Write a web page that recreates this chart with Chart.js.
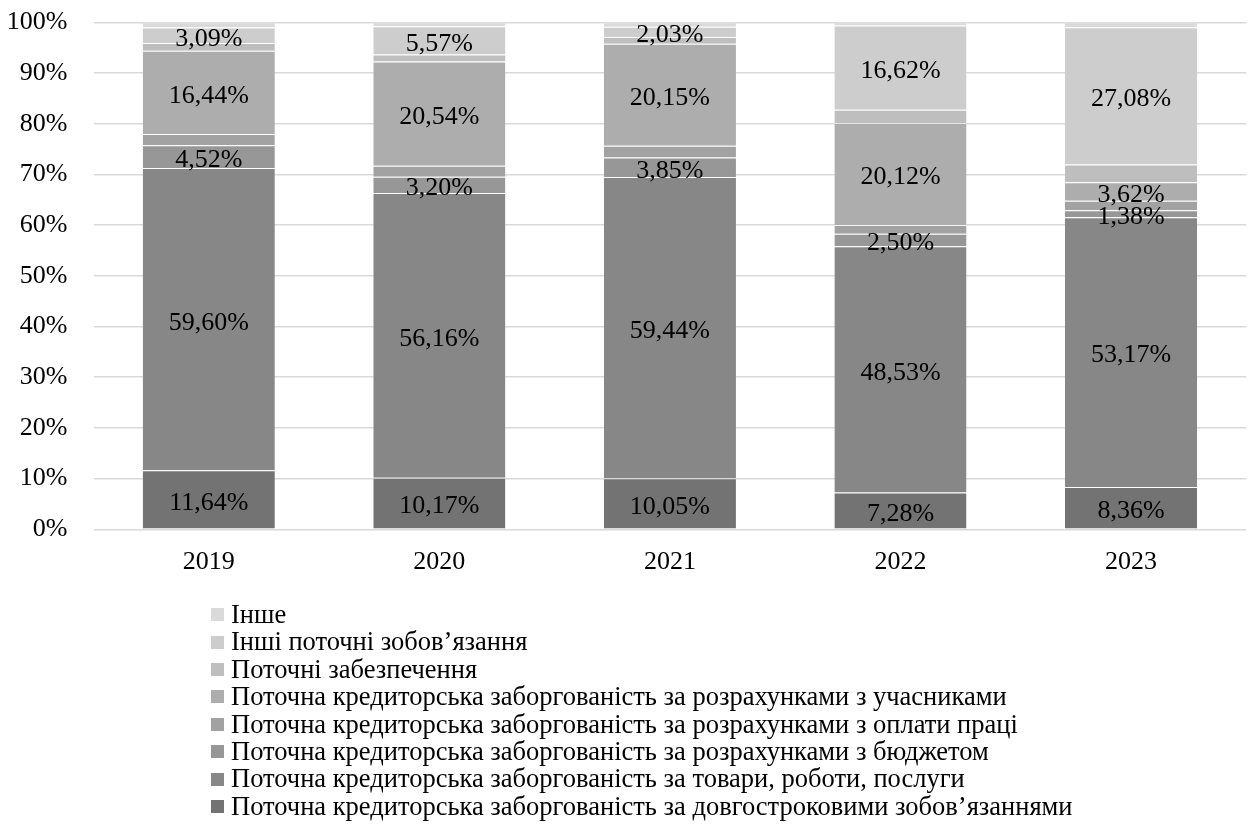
<!DOCTYPE html>
<html>
<head>
<meta charset="utf-8">
<script src="https://cdn.jsdelivr.net/npm/chart.js@4"></script>
<style>
  html, body { margin: 0; padding: 0; background: #fff; }
  #wrap { position: relative; width: 1248px; height: 824px; overflow: hidden; }
  #legend { position: absolute; left: 211px; top: 601px; font-family: "Liberation Serif", "DejaVu Serif", serif; font-size: 26.5px; color: #000; }
  #legend .row { height: 27.4px; line-height: 27.4px; white-space: nowrap; display: flex; align-items: center; }
  #legend .box { width: 13px; height: 13px; margin-right: 7px; flex: none; }
</style>
</head>
<body>
<div id="wrap">
  <canvas id="c" width="1248" height="824"></canvas>
  <div id="legend"></div>
</div>
<script>
const years = ['2019', '2020', '2021', '2022', '2023'];
const longTerm     = [11.64, 10.17, 10.05, 7.28, 8.36];
const goods        = [59.60, 56.16, 59.44, 48.53, 53.17];
const budget       = [4.52, 3.20, 3.85, 2.50, 1.38];
const wages        = [2.2, 2.2, 2.3, 1.7, 1.9];
const participants = [16.44, 20.54, 20.15, 20.12, 3.62];
const provisions   = [1.5, 1.4, 1.3, 2.6, 3.5];
const otherCurrent = [3.09, 5.57, 2.03, 16.62, 27.08];
const other        = [1.0, 0.76, 0.88, 0.65, 0.99];

const seriesNames = [
  'Поточна кредиторська заборгованість за довгостроковими зобов’язаннями',
  'Поточна кредиторська заборгованість за товари, роботи, послуги',
  'Поточна кредиторська заборгованість за розрахунками з бюджетом',
  'Поточна кредиторська заборгованість за розрахунками з оплати праці',
  'Поточна кредиторська заборгованість за розрахунками з учасниками',
  'Поточні забезпечення',
  'Інші поточні зобов’язання',
  'Інше'
];
const seriesValues = [longTerm, goods, budget, wages, participants, provisions, otherCurrent, other];
const seriesLabeled = [true, true, true, false, true, false, true, false];
const seriesColors = ['#737373', '#878787', '#979797', '#a2a2a2', '#adadad', '#bebebe', '#cdcdcd', '#dadada'];
const yTicks = [0, 10, 20, 30, 40, 50, 60, 70, 80, 90, 100];

const FONT = '"Liberation Serif", "DejaVu Serif", serif';

const datasets = seriesNames.map((name, i) => ({
  label: name,
  data: seriesValues[i],
  backgroundColor: seriesColors[i],
  borderColor: 'rgba(255,255,255,0.35)',
  borderWidth: {top: 1, bottom: 0, left: 0, right: 0},
  borderSkipped: false,
  labeled: seriesLabeled[i],
  categoryPercentage: 1.0,
  barPercentage: 0.573
}));

const labelPlugin = {
  id: 'segLabels',
  afterDatasetsDraw(chart) {
    const ctx = chart.ctx;
    ctx.save();
    ctx.font = '26px ' + FONT;
    ctx.fillStyle = '#000';
    ctx.textAlign = 'center';
    ctx.textBaseline = 'middle';
    chart.data.datasets.forEach((ds, di) => {
      if (!ds.labeled) return;
      const meta = chart.getDatasetMeta(di);
      meta.data.forEach((el, j) => {
        const v = ds.data[j];
        const txt = v.toFixed(2).replace('.', ',') + '%';
        const cy = (el.y + el.base) / 2;
        ctx.fillText(txt, el.x, cy + 3.5);
      });
    });
    ctx.restore();
  }
};

const chart = new Chart(document.getElementById('c'), {
  type: 'bar',
  data: { labels: years, datasets },
  options: {
    responsive: false,
    animation: false,
    devicePixelRatio: 1,
    layout: { padding: { top: 22.3, right: 1.7, bottom: 244.7, left: 0 } },
    plugins: {
      legend: { display: false },
      tooltip: { enabled: false }
    },
    scales: {
      x: {
        stacked: true,
        grid: { display: false, drawTicks: false },
        border: { display: false },
        ticks: { color: '#000', font: { family: FONT, size: 26 }, padding: 17 },
        afterFit(scale) { scale.height = 50; scale.paddingLeft = 0; scale.paddingRight = 0; }
      },
      y: {
        stacked: true,
        min: 0,
        max: 100,
        afterBuildTicks(scale) { scale.ticks = yTicks.map(v => ({ value: v })); },
        grid: { color: '#d9d9d9', lineWidth: 1.5, drawTicks: false },
        border: { display: false },
        ticks: { color: '#000', font: { family: FONT, size: 26 }, padding: 26, callback: v => v + '%' },
        afterFit(scale) { scale.width = 93.5; scale.paddingTop = 0; scale.paddingBottom = 0; }
      }
    }
  },
  plugins: [labelPlugin]
});

const legendEl = document.getElementById('legend');
for (let i = datasets.length - 1; i >= 0; i--) {
  const row = document.createElement('div');
  row.className = 'row';
  const box = document.createElement('span');
  box.className = 'box';
  box.style.background = datasets[i].backgroundColor;
  const t = document.createElement('span');
  t.textContent = datasets[i].label;
  row.appendChild(box);
  row.appendChild(t);
  legendEl.appendChild(row);
}
</script>
</body>
</html>
